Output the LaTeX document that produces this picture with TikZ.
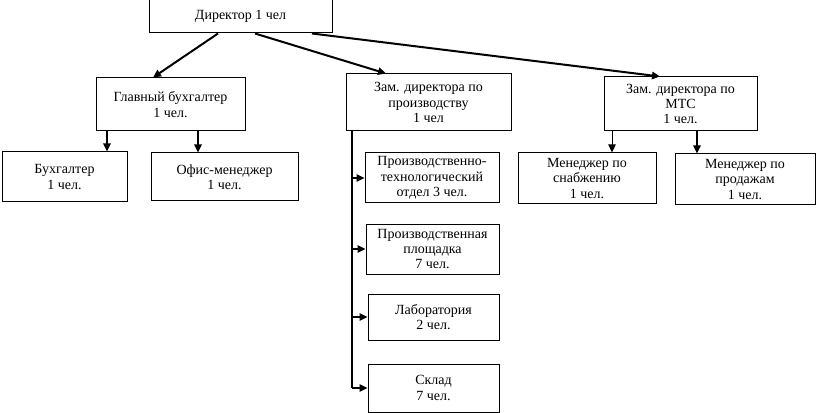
\documentclass[tikz,border=0pt]{standalone}
\usepackage{fontspec}
\setmainfont{Liberation Serif}
\usepackage{tikz}
\usetikzlibrary{arrows.meta, positioning, calc}

\tikzset{
    orgbox/.style={draw, line width=0.75pt, align=center, inner sep=2pt,
        font=\fontsize{10.5}{11.5}\selectfont},
    link/.style={line width=1.5pt, -{Triangle[length=6pt,width=5.5pt]}},
    thinlink/.style={line width=0.75pt, -{Triangle[length=6pt,width=5.5pt]}}
}

\begin{document}
\begin{tikzpicture}[x=0.75pt, y=-0.75pt]
    \useasboundingbox (0,0) rectangle (816,413);

    % Top level
    \node[orgbox, minimum width=137.25pt, minimum height=24.75pt] (dir) at (240.5,16.5) {Директор 1 чел};

    % Second level
    \node[orgbox, minimum width=111.75pt, minimum height=39.75pt] (gb) at (170.5,104.5) {Главный бухгалтер\\1 чел.};
    \node[orgbox, minimum width=123.75pt, minimum height=42.75pt] (zprod) at (428.5,102.5) {Зам. директора по\\производству\\1 чел};
    \node[orgbox, minimum width=114.75pt, minimum height=40.5pt] (zmts) at (680.5,104) {Зам. директора по\\МТС\\1 чел.};

    % Accounting
    \node[orgbox, minimum width=93.75pt, minimum height=37.5pt] (buh) at (64.5,177) {Бухгалтер\\1 чел.};
    \node[orgbox, minimum width=110.25pt, minimum height=36pt] (office) at (224.5,177) {Офис-менеджер\\1 чел.};

    % Production
    \node[orgbox, minimum width=100.5pt, minimum height=37.5pt] (pto) at (432,178) {Производственно-\\технологический\\отдел 3 чел.};
    \node[orgbox, minimum width=99.75pt, minimum height=37.5pt] (plosh) at (432.5,249) {Производственная\\площадка\\7 чел.};
    \node[orgbox, minimum width=98.25pt, minimum height=34.5pt] (lab) at (433.5,317) {Лаборатория\\2 чел.};
    \node[orgbox, minimum width=98.25pt, minimum height=36pt] (sklad) at (433.5,388) {Склад\\7 чел.};

    % MTS
    \node[orgbox, minimum width=103.5pt, minimum height=38.25pt] (snab) at (587,178.5) {Менеджер по\\снабжению\\1 чел.};
    \node[orgbox, minimum width=105pt, minimum height=38.25pt] (sales) at (745,179.5) {Менеджер по\\продажам\\1 чел.};

    % Director links
    \draw[link] (dir.south -| 218,0) -- (gb.north -| 153,0);
    \draw[link] (dir.south -| 255,0) -- (zprod.north -| 386,0);
    \draw[link] (dir.south -| 312,0) -- (zmts.north -| 660,0);

    % Accounting links
    \draw[link] (gb.south -| 107,0) -- (buh.north -| 107,0);
    \draw[link] (gb.south -| 198,0) -- (office.north -| 198,0);

    % Production bus
    \coordinate (bus) at (zprod.south -| 352,0);
    \draw[line width=1.5pt] (bus) -- (bus |- sklad.west);
    \foreach \unit in {pto, plosh, lab, sklad} {
        \draw[link] (bus |- \unit.west) -- (\unit.west);
    }

    % MTS links
    \draw[thinlink] (zmts.south -| 612,0) -- (snab.north -| 612,0);
    \draw[link] (zmts.south -| 697,0) -- (sales.north -| 697,0);
\end{tikzpicture}
\end{document}
